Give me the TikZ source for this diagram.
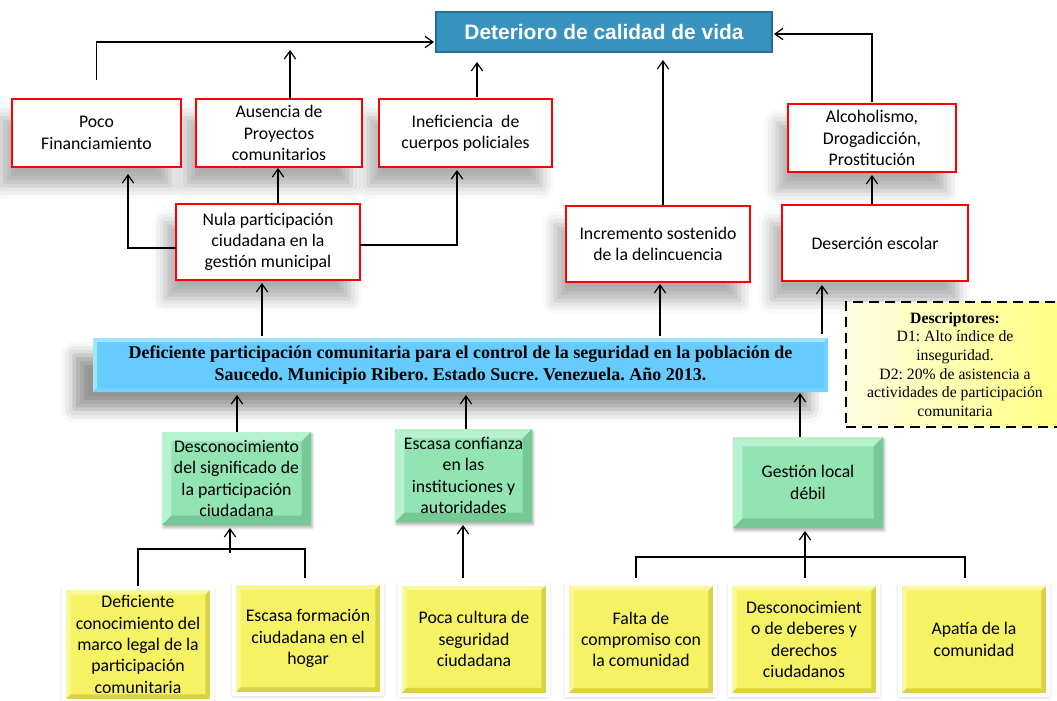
\documentclass[tikz,border=0pt]{standalone}
\usepackage{fontspec}
\setmainfont{Carlito}
\newfontfamily\timesf{Liberation Serif}
\newfontfamily\arialf{Liberation Sans}
\usetikzlibrary{arrows.meta,calc,shadows.blur}
\frenchspacing
\definecolor{titlefill}{RGB}{56,148,190}
\definecolor{titledraw}{RGB}{36,110,145}
\definecolor{cblue}{RGB}{102,204,255}
\definecolor{cbluelt}{RGB}{160,228,255}
\definecolor{grn}{RGB}{146,228,178}
\definecolor{grnlt}{RGB}{182,242,205}
\definecolor{grndk}{RGB}{118,200,150}
\definecolor{ylw}{RGB}{245,242,100}
\definecolor{ylwlt}{RGB}{250,248,150}
\definecolor{ylwdk}{RGB}{215,210,70}
\definecolor{descl}{RGB}{255,253,225}
\definecolor{descr}{RGB}{255,255,130}
\tikzset{
  base/.style={inner sep=0pt, outer sep=0pt, align=center, font=\frenchspacing\fontsize{13.3}{16}\selectfont},
  sz/.style 2 args={minimum width=#1pt, minimum height=#2pt},
  bevel/.style n args={3}{path picture={
    \path (path picture bounding box.north west) coordinate (bnw)
          (path picture bounding box.north east) coordinate (bne)
          (path picture bounding box.south west) coordinate (bsw)
          (path picture bounding box.south east) coordinate (bse);
    \fill[#1] (bnw) -- (bne) -- ($(bne)+(-#3,-#3)$) -- ($(bnw)+(#3,-#3)$) -- cycle;
    \fill[#1] (bnw) -- (bsw) -- ($(bsw)+(#3,#3)$) -- ($(bnw)+(#3,-#3)$) -- cycle;
    \fill[#2] (bsw) -- (bse) -- ($(bse)+(-#3,#3)$) -- ($(bsw)+(#3,#3)$) -- cycle;
    \fill[#2] (bne) -- (bse) -- ($(bse)+(-#3,#3)$) -- ($(bne)+(-#3,-#3)$) -- cycle;
  }},
  redbox/.style={base, draw=red, line width=2.2pt, fill=white,
    blur shadow={shadow xshift=-8pt, shadow yshift=-14pt, shadow blur radius=10pt, shadow opacity=32}},
  titlebox/.style={base, fill=titlefill, draw=titledraw, line width=2pt,
    font=\arialf\bfseries\fontsize{15.7}{18}\selectfont, text=white},
  centralbox/.style={base, fill=cblue, font=\frenchspacing\timesf\bfseries\fontsize{13.5}{16.5}\selectfont,
    bevel={cbluelt}{cblue!90!white}{3pt},
    blur shadow={shadow xshift=-14pt, shadow yshift=-13pt, shadow blur radius=10pt, shadow opacity=42}},
  greenbox/.style={base, fill=grn, bevel={grnlt}{grndk}{7pt},
    blur shadow={shadow xshift=1pt, shadow yshift=-2pt, shadow blur radius=2pt, shadow opacity=30}},
  yellowbox/.style={base, fill=ylw, draw=white, line width=3pt, bevel={ylwlt}{ylwdk}{5pt},
    blur shadow={shadow xshift=0pt, shadow yshift=-1pt, shadow blur radius=3pt, shadow opacity=30}},
  descbox/.style={base, draw=black, line width=1.7pt, dash pattern=on 7.5pt off 4.5pt,
    left color=descl, right color=descr, font=\frenchspacing\timesf\fontsize{11.8}{14}\selectfont},
  arr/.style={-{Straight Barb[length=6pt,width=8.5pt]}, line width=0.9pt},
  ln/.style={line width=0.9pt}
}
\begin{document}
\begin{tikzpicture}[x=0.75pt,y=-0.75pt]
\useasboundingbox (0,0) rectangle (1057,700);
\clip (0,0) rectangle (1057,700);

% top node
\node[titlebox, sz={252}{30}] (title) at (604,32) {Deterioro de calidad de vida};

% upper red boxes (right to left so shadows stay behind)
\node[redbox, sz={126}{51}] (alc) at (872,138) {Alcoholismo,\\Drogadicción,\\Prostitución};
\node[redbox, sz={129.75}{51}] (inef) at (465.5,133) {Ineficiencia\ \ de\\cuerpos policiales};
\node[redbox, sz={124.5}{51}] (aus) at (279,133) {Ausencia de\\Proyectos\\comunitarios};
\node[redbox, sz={126.75}{51}] (poco) at (96.5,133) {Poco\\Financiamiento};

\node[redbox, sz={139.5}{57}] (des) at (875,243) {Deserción escolar};
\node[redbox, sz={138}{57}] (inc) at (658,244) {Incremento sostenido\\de la delincuencia};
\node[redbox, sz={138}{57}] (nula) at (268,242) {Nula participación\\ciudadana en la\\gestión municipal};

% central problem
\node[centralbox, sz={551.25}{40.5}] (central) at (460.5,365) {Deficiente participación comunitaria para el control de la seguridad en la población de\\Saucedo. Municipio Ribero. Estado Sucre. Venezuela. Año 2013.};

% descriptors
\node[descbox, sz={163.5}{93.75}] (descr) at (955,364.5) {\textbf{Descriptores:}\\D1: Alto índice de\\inseguridad.\\D2: 20\% de asistencia a\\actividades de participación\\comunitaria};

% green causes
\node[greenbox, sz={111.75}{69.75}] (g1) at (236.5,478.5) {Desconocimiento\\del significado de\\la participación\\ciudadana};
\node[greenbox, sz={102.75}{69.75}] (g2) at (463.5,475.5) {Escasa confianza\\en las\\instituciones y\\autoridades};
\node[greenbox, sz={112.5}{68.25}] (g3) at (808,482.5) {Gestión local\\débil};

% yellow root causes
\node[yellowbox, sz={111}{84.75}] (y1) at (138,644.5) {Deficiente\\conocimiento del\\marco legal de la\\participación\\comunitaria};
\node[yellowbox, sz={111}{83.25}] (y2) at (308,638.5) {Escasa formación\\ciudadana en el\\hogar};
\node[yellowbox, sz={111}{83.25}] (y3) at (474,639) {Poca cultura de\\seguridad\\ciudadana};
\node[yellowbox, sz={111}{83.25}] (y4) at (641,639.5) {Falta de\\compromiso con\\la comunidad};
\node[yellowbox, sz={111}{83.25}] (y5) at (804,639.5) {Desconocimient\\o de deberes y\\derechos\\ciudadanos};
\node[yellowbox, sz={111}{83.25}] (y6) at (974,639.5) {Apatía de la\\comunidad};

% connectors: effects
\draw[arr] ($(poco.north)+(0,-19)$) |- ($(title.west)+(-2,10)$);
\draw[arr] ($(aus.north)+(11,0)$) -- ($(aus.north)+(11,-49)$);
\draw[arr] ($(inef.north)+(11.5,-2)$) -- ($(inef.north)+(11.5,-37)$);
\draw[arr] ($(inc.north)+(5,-1)$) -- ($(title.south)+(59,8)$);
\draw[arr] ($(alc.north)+(0,-2)$) |- ($(title.east)+(2,2)$);
\draw[arr] ($(des.north)+(-3,-1)$) -- ($(alc.south)+(0,3)$);
\draw[arr] ($(nula.west)+(0,6)$) -| ($(poco.south)+(31.5,7)$);
\draw[arr] ($(nula.north)+(10,-1)$) -- ($(aus.south)+(-1,1)$);
\draw[arr] ($(nula.east)+(0,3)$) -| ($(inef.south)+(-8.5,3)$);
\draw[arr] ($(central.north)+(-198.5,-2)$) -- ($(nula.south)+(-6,3)$);
\draw[arr] ($(central.north)+(199.5,-2)$) -- ($(inc.south)+(2,2)$);
\draw[arr] ($(central.north)+(361.5,-4)$) -- ($(des.south)+(-53,4)$);

% connectors: causes
\draw[arr] ($(g1.north)+(0.5,0)$) -- ($(central.south)+(-223.5,3)$);
\draw[arr] ($(g2.north)+(2.5,0)$) -- ($(central.south)+(5.5,3)$);
\draw[arr] ($(g3.north)+(-8,0)$) -- ($(central.south)+(339.5,1)$);

\draw[ln] ($(y1.north)+(0,-2)$) |- ($(y2.north)+(-3,-34)$) -- ($(y2.north)+(-3,-5)$);
\draw[arr] ($(g1.south)+(-6.5,28)$) -- ($(g1.south)+(-6.5,3)$);
\draw[arr] ($(y3.north)+(-11,-6)$) -- ($(g2.south)+(-0.5,3)$);
\draw[ln] ($(y4.north)+(-5,-6)$) |- ($(y6.north)+(-9,-27)$) -- ($(y6.north)+(-9,-6)$);
\draw[arr] ($(y5.north)+(1,-6)$) -- ($(g3.south)+(-3,3)$);
\end{tikzpicture}
\end{document}
